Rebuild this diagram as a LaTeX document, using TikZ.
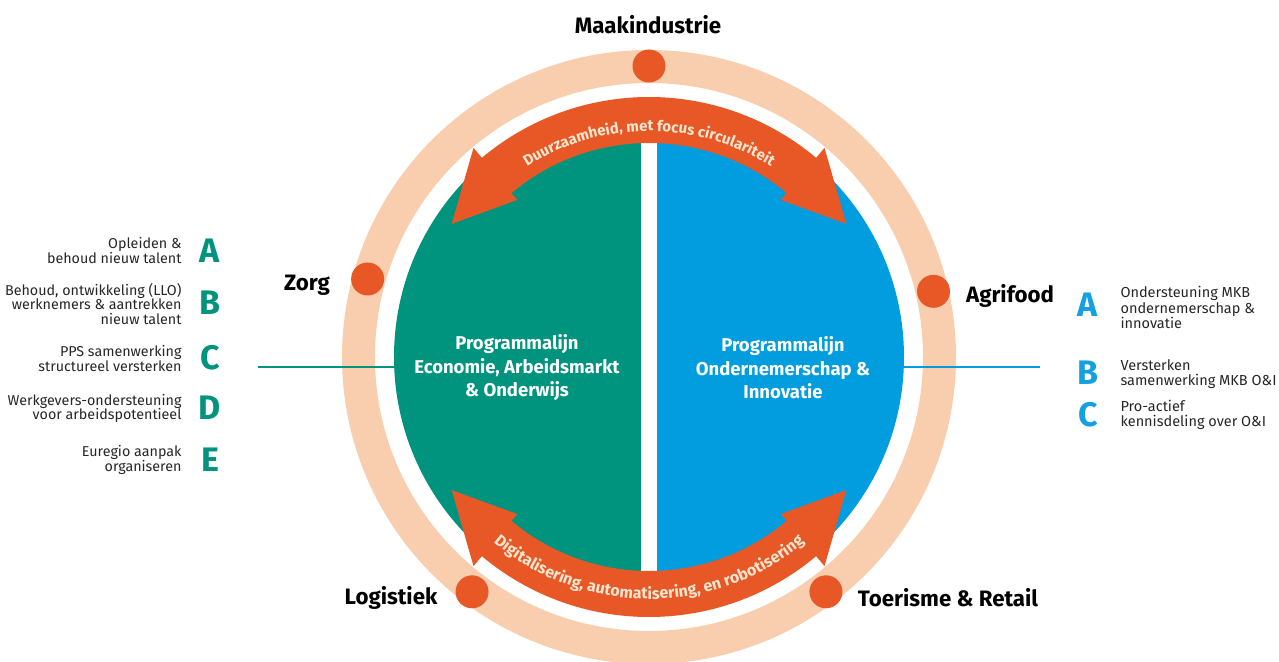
\documentclass[tikz,border=0pt]{standalone}
\usepackage{fontspec}
\setmainfont{Fira Sans}
\usetikzlibrary{decorations.text}
\definecolor{teal}{RGB}{0,148,126}
\definecolor{sky}{RGB}{2,157,222}
\definecolor{orng}{RGB}{232,88,38}
\definecolor{peach}{RGB}{249,206,174}
\definecolor{cream}{RGB}{252,230,208}
\definecolor{letterblue}{RGB}{20,160,225}
\tikzset{
  dot/.style={circle,fill=orng,minimum size=33pt,inner sep=0pt},
  sector/.style={font=\fontsize{22.3}{24}\selectfont\bfseries,text=black},
  prog/.style={font=\fontsize{18.5}{23.5}\selectfont\bfseries,text=white,align=center},
  lefttxt/.style={font=\fontsize{14.3}{14.5}\selectfont,align=right,anchor=east,text=black!85},
  righttxt/.style={font=\fontsize{14.5}{15.5}\selectfont,align=left,anchor=west,text=black!85},
  gletter/.style={font=\fontsize{34}{34}\selectfont\bfseries,text=teal},
  bletter/.style={font=\fontsize{34}{34}\selectfont\bfseries,text=letterblue},
  arrowshape/.style={fill=orng},
  linkline/.style={line width=2.5pt}
}
\begin{document}
\begin{tikzpicture}[x=1pt,y=1pt]
\useasboundingbox (-649,-304) rectangle (630,357);
% outer ring
\draw[peach,line width=33pt] (0,0) circle (290.5pt);
% disk halves
\begin{scope}
  \clip (0,0) circle (255pt);
  \fill[teal] (-300,-300) rectangle (-8,300);
  \fill[sky] (8,-300) rectangle (300,300);
\end{scope}
% connector lines
\coordinate (lineL) at (-391,-10);
\coordinate (diskL) at (-254.8,-10);
\coordinate (diskR) at (254.8,-10);
\coordinate (lineR) at (391,-10);
\draw[teal,linkline] (lineL) -- (diskL);
\draw[sky,linkline] (diskR) -- (lineR);
% top arrow
\fill[arrowshape] (130:260pt) arc[start angle=130,end angle=50,radius=260pt]
  -- (50:273pt) -- (34:238pt) -- (50:205pt) -- (50:214pt)
  arc[start angle=50,end angle=130,radius=214pt]
  -- (130:205pt) -- (146:238pt) -- (130:273pt) -- cycle;
% bottom arrow
\fill[arrowshape] (230:260pt) arc[start angle=230,end angle=310,radius=260pt]
  -- (310:273pt) -- (326:238pt) -- (310:205pt) -- (310:214pt)
  arc[start angle=310,end angle=230,radius=214pt]
  -- (230:205pt) -- (214:238pt) -- (230:273pt) -- cycle;
% arrow texts
\path[decorate,decoration={text along path,text align=center,
  text={|\fontsize{15}{15}\selectfont\bfseries\color{cream}|Duurzaamheid, met focus circulariteit}}]
  (145:226pt) arc[start angle=145,end angle=35,radius=226pt];
\path[decorate,decoration={text along path,text align=center,
  text={|\fontsize{16}{16}\selectfont\bfseries\color{cream}|Digitalisering, automatisering, en robotisering}}]
  (215:242pt) arc[start angle=215,end angle=325,radius=242pt];
% dots on ring
\node[dot] (dmaak) at (90:291pt) {};
\node[dot] (dzorg) at (164.5:292pt) {};
\node[dot] (dagri) at (13:292pt) {};
\node[dot] (dlog) at (233:294pt) {};
\node[dot] (dtoer) at (307:294pt) {};
% sector labels
\node[sector] (maak) at (-1,332) {Maakindustrie};
\node[sector] (zorg) at (-342,72) {Zorg};
\node[sector] (agri) at (361,61) {Agrifood};
\node[sector] (log) at (-258,-241) {Logistiek};
\node[sector] (toer) at (299,-241) {Toerisme \& Retail};
% programme texts
\node[prog] (progL) at (-132,-11) {Programmalijn\\Economie, Arbeidsmarkt\\\& Onderwijs};
\node[prog] (progR) at (134,-11) {Programmalijn\\Ondernemerschap \&\\Innovatie};
% left list
\node[gletter] (lA) at (-439,106) {A};
\node[lefttxt] (tA) at (-464,106.5) {Opleiden \&\\behoud nieuw talent};
\node[gletter] (lB) at (-439,54) {B};
\node[lefttxt] (tB) at (-464,53) {Behoud, ontwikkeling (LLO)\\werknemers \& aantrekken\\nieuw talent};
\node[gletter] (lC) at (-439,-1) {C};
\node[lefttxt] (tC) at (-464,-1.5) {PPS samenwerking\\structureel versterken};
\node[gletter] (lD) at (-439,-51) {D};
\node[lefttxt] (tD) at (-464,-51.5) {Werkgevers-ondersteuning\\voor arbeidspotentieel};
\node[gletter] (lE) at (-439,-103) {E};
\node[lefttxt] (tE) at (-464,-103) {Euregio aanpak\\organiseren};
% right list
\node[bletter] (rA) at (439,52) {A};
\node[righttxt] (sA) at (468,49.3) {Ondersteuning MKB\\ondernemerschap \&\\innovatie};
\node[bletter] (rB) at (439,-16) {B};
\node[righttxt] (sB) at (468,-17) {Versterken\\samenwerking MKB O\&I};
\node[bletter] (rC) at (439,-58) {C};
\node[righttxt] (sC) at (468,-58) {Pro-actief\\kennisdeling over O\&I};
\end{tikzpicture}
\end{document}
